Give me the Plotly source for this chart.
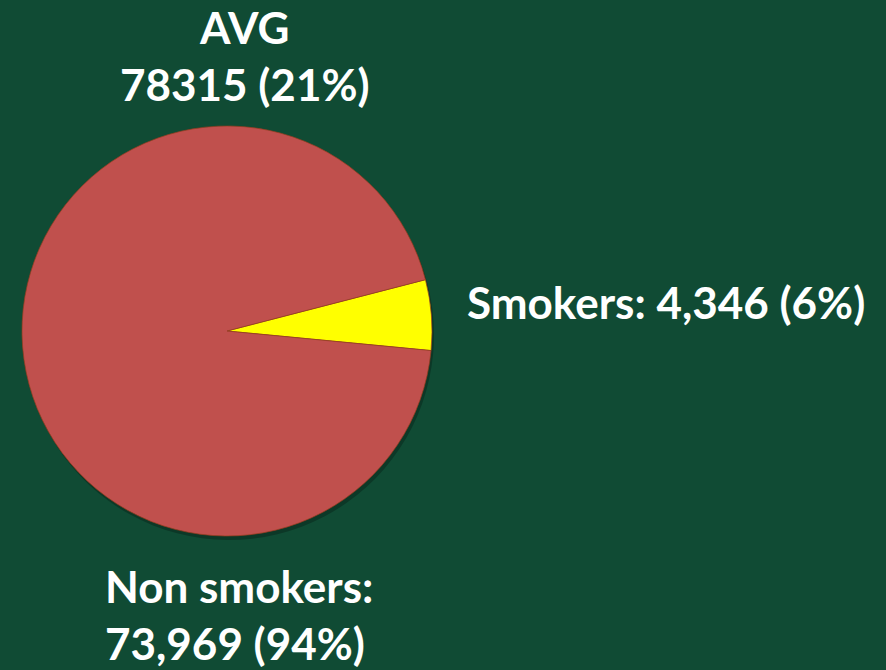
import plotly.graph_objects as go

# 흡연 여부별 인원 (AVG)
labels = ['Smokers', 'Non smokers']
values = [4346, 73969]
colors = ['#ffff00', '#c0504d']
label_texts = ['Smokers: 4,346 (6%)', 'Non smokers:<br>73,969 (94%)']
title_text = 'AVG<br>78315 (21%)'

W, H = 886, 670
cx, cy, r = 227, 331, 205


def dom(dx=0, dy=0):
    return dict(x=[(cx - r + dx) / W, (cx + r + dx) / W],
                y=[(H - cy - r - dy) / H, (H - cy + r - dy) / H])


fig = go.Figure()

# 그림자
fig.add_trace(go.Pie(labels=labels, values=values, domain=dom(2, 4),
                     marker=dict(colors=['rgba(0,0,0,0.25)'] * 2),
                     textinfo='none', sort=False, direction='clockwise',
                     rotation=75.5, hoverinfo='skip', showlegend=False))

fig.add_trace(go.Pie(labels=labels, values=values, domain=dom(),
                     marker=dict(colors=colors,
                                 line=dict(color='rgba(150,60,30,0.7)', width=1)),
                     textinfo='none', sort=False, direction='clockwise',
                     rotation=75.5, showlegend=False))

font = dict(family='Lato', size=44, color='white', weight='bold')
fig.add_annotation(text=title_text, x=245 / W, y=1 - 55 / H, xref='paper', yref='paper',
                   xanchor='center', yanchor='middle', showarrow=False, font=font,
                   borderpad=0)
fig.add_annotation(text=label_texts[0], x=465 / W, y=1 - 302 / H, xref='paper', yref='paper',
                   xanchor='left', yanchor='middle', showarrow=False, font=font)
fig.add_annotation(text=label_texts[1], x=104 / W, y=1 - 614 / H, xref='paper', yref='paper',
                   xanchor='left', yanchor='middle', showarrow=False, align='left', font=font,
                   borderpad=0)

fig.update_layout(width=W, height=H, margin=dict(l=0, r=0, t=0, b=0),
                  paper_bgcolor='#104b34', plot_bgcolor='#104b34')

fig.write_html('out.html', config={'displayModeBar': False},
               post_script="document.body.style.margin='0';document.body.style.overflow='hidden';")
